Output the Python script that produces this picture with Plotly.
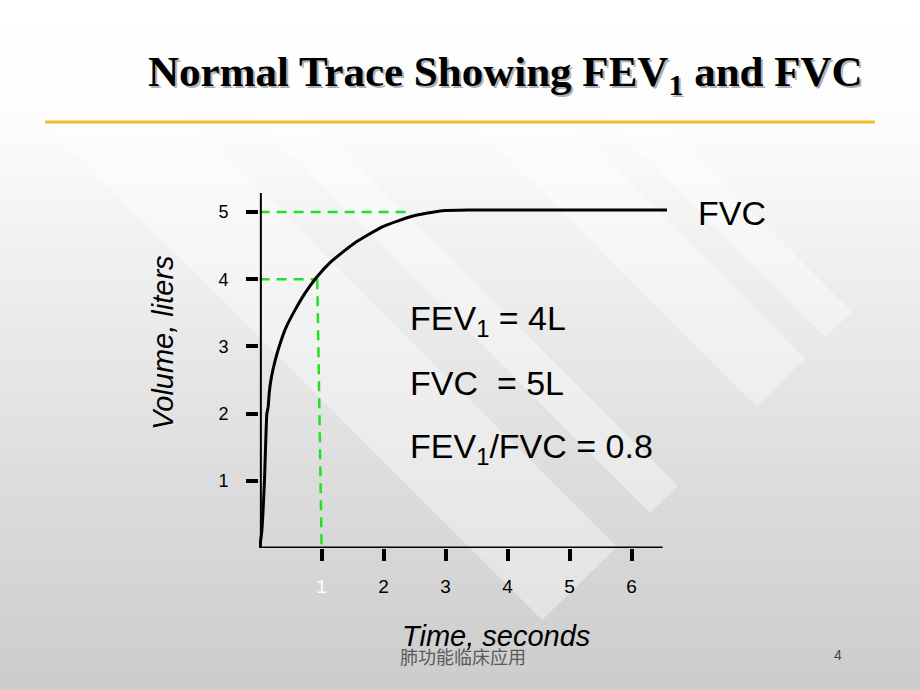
import plotly.graph_objects as go

# ---------------- data ----------------
time_s = [0.0, 0.036, 0.078, 0.117, 0.138, 0.154, 0.19, 0.25, 0.33, 0.43, 0.57, 0.73, 0.92,
          1.14, 1.35, 1.55, 1.98, 2.47, 2.95, 3.4, 6.57]
volume_l = [0.0, 0.26, 1.0, 2.0, 2.1, 2.3, 2.54, 2.79, 3.04, 3.29, 3.54, 3.79, 4.03,
            4.25, 4.41, 4.55, 4.78, 4.94, 5.02, 5.03, 5.03]

x_ticks = [1, 2, 3, 4, 5, 6]
x_ticktext = ["<span style='color:#ffffff'>1</span>", "2", "3", "4", "5", "6"]
y_ticks = [1, 2, 3, 4, 5]
y_ticktext = ["1", "2", "3", "4", "5"]

fev1_t = [0, 0.93]
fev1_v = [4, 4]
fev1_drop_t = [0.93, 1.0]
fev1_drop_v = [4, 0]
fvc_t = [0, 2.38]
fvc_v = [5, 5]

# ---------------- geometry ----------------
W, H = 920, 690
L, R, T, B = 259, 253, 193, 142
PW, PH = W - L - R, H - T - B
X_MAX = PW / 62.0
Y_MAX = PH / 67.2


def pxx(x):
    return (x - L) / PW


def pxy(y):
    return (H - B - y) / PH


fig = go.Figure()

green = "#22e022"
dash_line = dict(color=green, width=2.5, dash="10px,7px")
fig.add_trace(go.Scatter(x=fvc_t, y=fvc_v, mode="lines", line=dash_line, hoverinfo="skip"))
fig.add_trace(go.Scatter(x=fev1_t, y=fev1_v, mode="lines", line=dash_line, hoverinfo="skip"))
fig.add_trace(go.Scatter(x=fev1_drop_t, y=fev1_drop_v, mode="lines", line=dash_line, hoverinfo="skip"))
fig.add_trace(go.Scatter(x=time_s, y=volume_l, mode="lines",
                         line=dict(color="black", width=3, shape="spline", smoothing=0.5),
                         hoverinfo="skip"))

shapes = []
# background gradient bands
stops = [(0, 255), (130, 252), (300, 236), (500, 219), (690, 204)]


def grey_at(y):
    for (y0, g0), (y1, g1) in zip(stops[:-1], stops[1:]):
        if y0 <= y <= y1:
            return g0 + (g1 - g0) * (y - y0) / (y1 - y0)
    return stops[-1][1]


step = 6
for y in range(0, H, step):
    g = int(round(grey_at(y + step / 2)))
    shapes.append(dict(type="rect", xref="paper", yref="paper",
                       x0=pxx(0), x1=pxx(W), y0=pxy(y + step + 0.5), y1=pxy(y),
                       fillcolor=f"rgb({g},{g},{g})", line=dict(width=0), layer="below"))

# diagonal chevron stripes (tip, cut-corner)
stripes = [((825, 337), (852, 312)), ((757, 407), (805, 358)),
           ((650, 513), (678, 486)), ((542, 620), (617, 547))]
for (tx, ty), (cx, cy) in stripes:
    pts = [(tx - ty, 0), (tx, ty), (cx, cy), (cx - cy, 0)]
    path = "M " + " L ".join(f"{pxx(a):.5f},{pxy(b):.5f}" for a, b in pts) + " Z"
    shapes.append(dict(type="path", xref="paper", yref="paper", path=path,
                       fillcolor="rgba(255,255,255,0.38)", line=dict(width=0), layer="below"))

# title underline
shapes.append(dict(type="line", xref="paper", yref="paper",
                   x0=pxx(45), x1=pxx(875), y0=pxy(122), y1=pxy(122),
                   line=dict(color="#f0be28", width=3)))
# axis lines
shapes.append(dict(type="line", xref="x", yref="y", x0=-0.03, x1=6.5, y0=0, y1=0,
                   line=dict(color="black", width=3)))
shapes.append(dict(type="line", xref="x", yref="y", x0=0.02, x1=0.02, y0=0, y1=Y_MAX,
                   line=dict(color="black", width=2)))

ann = []
title_txt = "<b>Normal Trace Showing FEV<sub>1</sub> and FVC</b>"
ann.append(dict(x=pxx(507), y=pxy(77), xref="paper", yref="paper", text=title_txt,
                showarrow=False, xanchor="center", yanchor="middle",
                font=dict(family="Liberation Serif", size=43, color="rgba(110,110,110,0.55)")))
ann.append(dict(x=pxx(505), y=pxy(75), xref="paper", yref="paper", text=title_txt,
                showarrow=False, xanchor="center", yanchor="middle",
                font=dict(family="Liberation Serif", size=43, color="black")))

big = dict(family="Liberation Sans", size=34, color="black")


def label(px, py, text, font, **kw):
    d = dict(x=pxx(px), y=pxy(py), xref="paper", yref="paper", text=text,
             showarrow=False, font=font, yanchor="middle")
    d.update(kw)
    return d


ann.append(label(696, 213, "FVC", big, xanchor="left"))
ann.append(label(408, 320, "FEV<sub>1</sub> = 4L", big, xanchor="left"))
ann.append(label(408, 383, "FVC  = 5L", big, xanchor="left"))
ann.append(label(408, 448, "FEV<sub>1</sub>/FVC = 0.8", big, xanchor="left"))

axis_font = dict(family="Liberation Sans", size=29, color="black")
ann.append(label(163, 343, "<i>Volume, liters</i>", axis_font, xanchor="center", textangle=-90))
ann.append(label(496, 636, "<i>Time, seconds</i>", axis_font, xanchor="center"))
ann.append(label(463, 656, "肺功能临床应用",
                 dict(family="Noto Sans CJK SC", size=18, color="#5a5a5a"), xanchor="center"))
ann.append(label(838, 655, "4", dict(family="Liberation Sans", size=14, color="#444444"),
                 xanchor="center"))

fig.update_layout(
    width=W, height=H,
    margin=dict(l=L, r=R, t=T, b=B, pad=0),
    paper_bgcolor="#ffffff",
    plot_bgcolor="rgba(0,0,0,0)",
    showlegend=False,
    shapes=shapes,
    annotations=ann,
    xaxis=dict(range=[-0.01, X_MAX - 0.01], showgrid=False, zeroline=False, showline=False,
               tickmode="array", tickvals=x_ticks, ticktext=x_ticktext,
               ticks="outside", ticklen=12, tickwidth=4, tickcolor="black",
               ticklabelstandoff=9,
               tickfont=dict(family="Liberation Sans", size=19, color="black")),
    yaxis=dict(range=[0, Y_MAX], showgrid=False, zeroline=False, showline=False,
               tickmode="array", tickvals=y_ticks, ticktext=y_ticktext,
               ticks="outside", ticklen=12, tickwidth=4, tickcolor="black",
               ticklabelstandoff=14,
               tickfont=dict(family="Liberation Sans", size=18, color="black")),
)

fig.write_html("out.html", config={"displayModeBar": False},
               post_script="document.body.style.margin='0';document.body.style.background='#cccccc';")
